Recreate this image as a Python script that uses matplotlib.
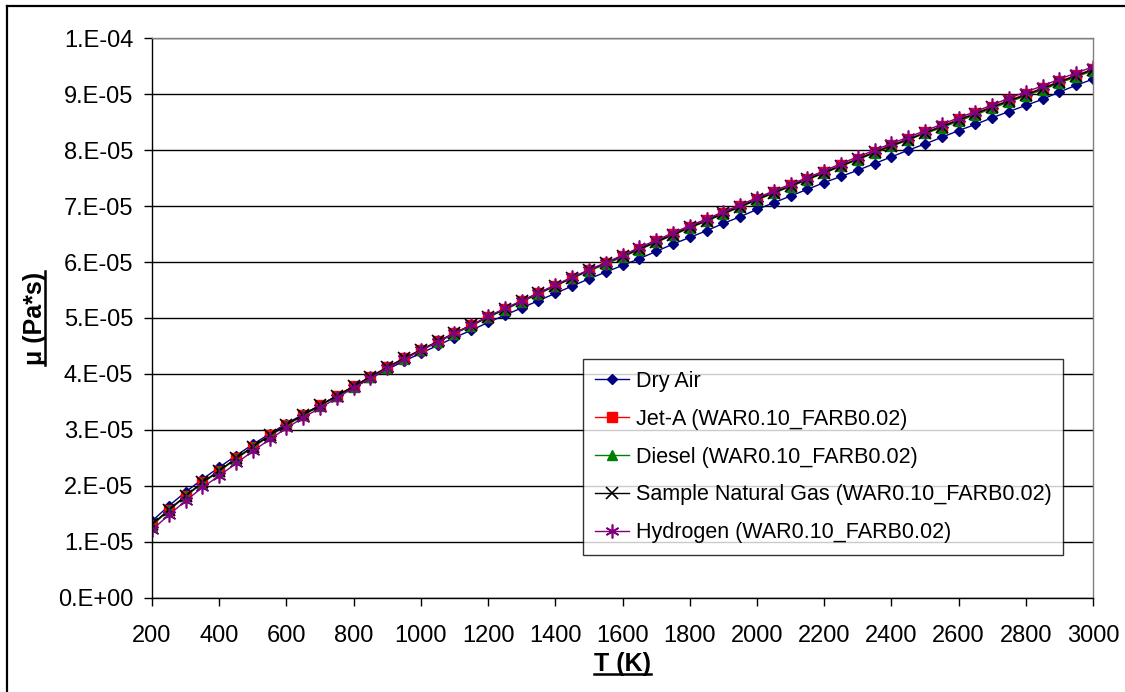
import matplotlib
matplotlib.use("Agg")
import matplotlib.pyplot as plt
from matplotlib.lines import Line2D
from matplotlib.ticker import FuncFormatter, MultipleLocator

plt.rcParams["font.family"] = ["Liberation Sans", "DejaVu Sans"]

# temperature grid (K)
temps = list(range(200, 3001, 50))

# dynamic viscosity, in units of 1e-5 Pa*s
dry_air = [1.37, 1.64, 1.89, 2.12, 2.33, 2.54, 2.74, 2.93, 3.11, 3.28,
           3.44, 3.60, 3.76, 3.92, 4.08, 4.23, 4.37, 4.51, 4.65, 4.78,
           4.92, 5.05, 5.18, 5.31, 5.44, 5.57, 5.70, 5.82, 5.94, 6.06,
           6.19, 6.32, 6.44, 6.56, 6.69, 6.81, 6.94, 7.06, 7.18, 7.30,
           7.42, 7.53, 7.64, 7.76, 7.88, 8.00, 8.11, 8.23, 8.35, 8.46,
           8.58, 8.69, 8.80, 8.91, 9.04, 9.16, 9.27]
jet_a = [1.30, 1.57, 1.82, 2.06, 2.27, 2.49, 2.70, 2.90, 3.09, 3.27,
         3.44, 3.61, 3.78, 3.95, 4.12, 4.28, 4.43, 4.58, 4.73, 4.87,
         5.02, 5.16, 5.30, 5.44, 5.58, 5.72, 5.85, 5.98, 6.11, 6.24,
         6.37, 6.50, 6.63, 6.75, 6.88, 7.00, 7.13, 7.25, 7.37, 7.49,
         7.61, 7.73, 7.85, 7.97, 8.09, 8.20, 8.32, 8.43, 8.55, 8.66,
         8.78, 8.89, 9.00, 9.11, 9.23, 9.34, 9.45]
diesel = [1.29, 1.56, 1.81, 2.05, 2.26, 2.48, 2.69, 2.89, 3.08, 3.26,
          3.43, 3.60, 3.77, 3.94, 4.11, 4.27, 4.42, 4.57, 4.72, 4.86,
          5.01, 5.15, 5.29, 5.43, 5.57, 5.71, 5.84, 5.96, 6.09, 6.22,
          6.35, 6.48, 6.61, 6.73, 6.86, 6.98, 7.11, 7.23, 7.35, 7.47,
          7.59, 7.71, 7.83, 7.95, 8.07, 8.18, 8.30, 8.40, 8.52, 8.63,
          8.75, 8.86, 8.97, 9.08, 9.20, 9.31, 9.42]
natural_gas = [1.31, 1.57, 1.82, 2.06, 2.27, 2.49, 2.70, 2.90, 3.09, 3.27,
               3.44, 3.61, 3.78, 3.95, 4.12, 4.28, 4.43, 4.58, 4.73, 4.87,
               5.02, 5.16, 5.30, 5.44, 5.58, 5.72, 5.85, 5.98, 6.11, 6.23,
               6.36, 6.49, 6.62, 6.74, 6.87, 6.99, 7.12, 7.24, 7.36, 7.48,
               7.60, 7.72, 7.84, 7.96, 8.08, 8.19, 8.31, 8.42, 8.54, 8.65,
               8.77, 8.88, 8.99, 9.10, 9.22, 9.33, 9.44]
hydrogen = [1.21, 1.48, 1.73, 1.97, 2.18, 2.40, 2.62, 2.83, 3.03, 3.22,
            3.39, 3.57, 3.75, 3.92, 4.10, 4.26, 4.42, 4.57, 4.73, 4.87,
            5.03, 5.17, 5.31, 5.45, 5.59, 5.73, 5.86, 5.99, 6.12, 6.26,
            6.39, 6.52, 6.65, 6.77, 6.90, 7.02, 7.15, 7.27, 7.39, 7.51,
            7.63, 7.76, 7.88, 8.00, 8.12, 8.23, 8.35, 8.46, 8.58, 8.69,
            8.81, 8.93, 9.04, 9.15, 9.27, 9.38, 9.49]

labels = ["Dry Air",
          "Jet-A (WAR0.10_FARB0.02)",
          "Diesel (WAR0.10_FARB0.02)",
          "Sample Natural Gas (WAR0.10_FARB0.02)",
          "Hydrogen (WAR0.10_FARB0.02)"]
series = [dry_air, jet_a, diesel, natural_gas, hydrogen]
styles = [
    dict(color="#000080", marker="D", markersize=5.5),
    dict(color="#ff0000", marker="s", markersize=7),
    dict(color="#008000", marker="^", markersize=7),
    dict(color="#000000", marker="x", markersize=8, markeredgewidth=1.2),
    dict(color="#800080", marker=(6, 2, 0), markersize=10, markeredgewidth=1.2),
]

fig = plt.figure(figsize=(11.25, 6.92), dpi=100)
ax = fig.add_axes([0.1351, 0.1363, 0.8365, 0.8084])

for vals, lab, st in zip(series, labels, styles):
    ax.plot(temps, [v * 1e-5 for v in vals], label=lab, linewidth=1.0, **st)

ax.set_xlim(200, 3000)
ax.set_ylim(0, 1e-4)
ax.xaxis.set_major_locator(MultipleLocator(200))
ax.yaxis.set_major_locator(MultipleLocator(1e-5))
ax.yaxis.set_major_formatter(FuncFormatter(lambda v, pos: f"{v:#.0E}"))

ax.set_axisbelow(True)
ax.yaxis.grid(True, color="black", linewidth=1.0)
ax.tick_params(axis="both", labelsize=17, length=5.5, width=1.0,
               direction="out", colors="black")
ax.tick_params(axis="x", pad=14)
ax.tick_params(axis="y", pad=8)
for side in ("left", "bottom"):
    ax.spines[side].set_color("black")
    ax.spines[side].set_linewidth(1.0)
for side in ("top", "right"):
    ax.spines[side].set_color("#808080")
    ax.spines[side].set_linewidth(1.0)

ax.set_xlabel("T (K)", fontsize=18, fontweight="bold", labelpad=4)
ax.set_ylabel("\u03bc (Pa*s)", fontsize=18, fontweight="bold", labelpad=8)

leg = ax.legend(loc="lower left", bbox_to_anchor=(0.458, 0.0763),
                borderaxespad=0, fontsize=15.5, frameon=True, fancybox=False,
                edgecolor="black", handlelength=1.6, handletextpad=0.3,
                labelspacing=0.78, borderpad=0.55)
leg.get_frame().set_linewidth(1.0)

# outer chart frame (left and top edges)
fig.add_artist(Line2D([0.0058, 0.0058], [0.0, 0.9913], color="black",
                      linewidth=1.6, transform=fig.transFigure))
fig.add_artist(Line2D([0.0058, 1.0], [0.9913, 0.9913], color="black",
                      linewidth=1.6, transform=fig.transFigure))

# underline the axis titles
fig.canvas.draw()
renderer = fig.canvas.get_renderer()
inv = fig.transFigure.inverted()

bb = ax.xaxis.label.get_window_extent(renderer)
(x0, y0), (x1, _) = inv.transform([(bb.x0, bb.y0 + 2), (bb.x1, bb.y0 + 2)])
fig.add_artist(Line2D([x0, x1], [y0, y0], color="black", linewidth=1.8,
                      transform=fig.transFigure))

bb = ax.yaxis.label.get_window_extent(renderer)
(x0, y0), (_, y1) = inv.transform([(bb.x1 - 2, bb.y0), (bb.x1 - 2, bb.y1)])
fig.add_artist(Line2D([x0, x0], [y0, y1], color="black", linewidth=1.8,
                      transform=fig.transFigure))

fig.savefig("out.png", dpi=100)
